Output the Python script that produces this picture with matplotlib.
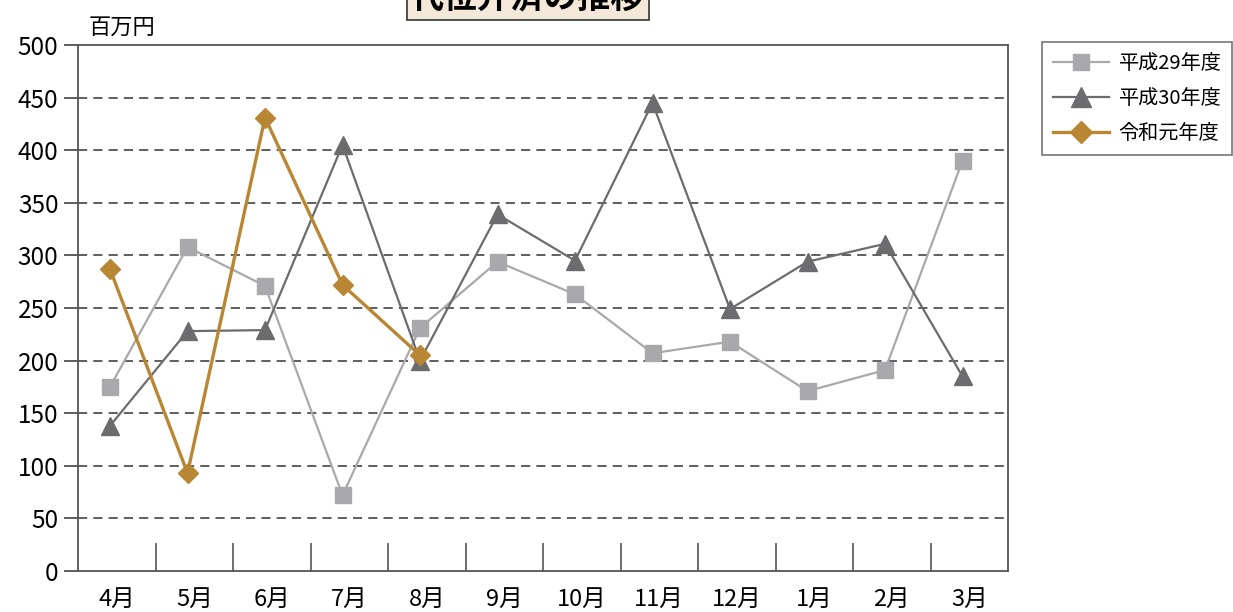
import matplotlib.pyplot as plt
import numpy as np

plt.rcParams["font.family"] = ["Noto Sans CJK JP", "DejaVu Sans"]

# ===============================
months = ["4月", "5月", "6月", "7月", "8月", "9月", "10月", "11月", "12月", "1月", "2月", "3月"]
h29 = [175, 308, 271, 72, 231, 294, 263, 207, 218, 171, 191, 390]
h30 = [138, 228, 229, 405, 200, 339, 295, 445, 249, 294, 311, 185]
r1 = [287, 93, 431, 272, 205]
series_names = ["平成29年度", "平成30年度", "令和元年度"]
title = "代位弁済の推移"
unit = "百万円"

# ===============================
fig = plt.figure(figsize=(12.33, 6.12), dpi=100)
ax = fig.add_axes([78 / 1233, 1 - 571 / 612, 930 / 1233, 526 / 612])

x = np.arange(len(months))
ax.plot(x, h29, color="#a9a9ab", lw=1.6, marker="s", ms=11, label=series_names[0], zorder=3)
ax.plot(np.arange(len(h30)), h30, color="#6c6c6e", lw=1.6, marker="^", ms=13, label=series_names[1], zorder=4)
ax.plot(np.arange(len(r1)), r1, color="#b98634", lw=2.4, marker="D", ms=10, label=series_names[2], zorder=5)

ax.set_xlim(-0.413, 11.587)
ax.set_ylim(0, 500)
ax.set_yticks(np.arange(0, 501, 50))
ax.tick_params(axis="y", labelsize=17.5, direction="out", length=10, width=1.2, color="#444444", pad=4)

# category labels centred, tick marks on category boundaries
ax.set_xticks(x + 0.087)
ax.set_xticklabels(months, fontsize=17)
ax.tick_params(axis="x", length=0, pad=12)
ax.set_xticks(np.arange(11) + 0.587, minor=True)
ax.tick_params(axis="x", which="minor", direction="in", length=20, width=1.2, color="#555555")

for v in range(50, 500, 50):
    ax.axhline(v, color="#333333", lw=1.1, ls=(0, (6, 4)), zorder=1)

for s in ax.spines.values():
    s.set_color("#555555")
    s.set_linewidth(1.3)

ax.text(0.011, 1.012, unit, transform=ax.transAxes, fontsize=16, ha="left", va="bottom")

fig.text(528 / 1233, 1 - 16 / 612, title, fontsize=24, fontweight="bold", ha="center", va="bottom",
         bbox=dict(boxstyle="square,pad=0.12", facecolor="#f4e9d8", edgecolor="#333333", lw=1.2))

leg = fig.legend(loc="upper left", bbox_to_anchor=(1042 / 1233, 1 - 42 / 612), fontsize=14.5,
                 frameon=True, fancybox=False, edgecolor="#555555", borderpad=0.55, borderaxespad=0,
                 handlelength=2.8, labelspacing=0.7, handletextpad=0.45, markerscale=1.1)
leg.get_frame().set_linewidth(1.2)

plt.savefig("out.png", dpi=100)
